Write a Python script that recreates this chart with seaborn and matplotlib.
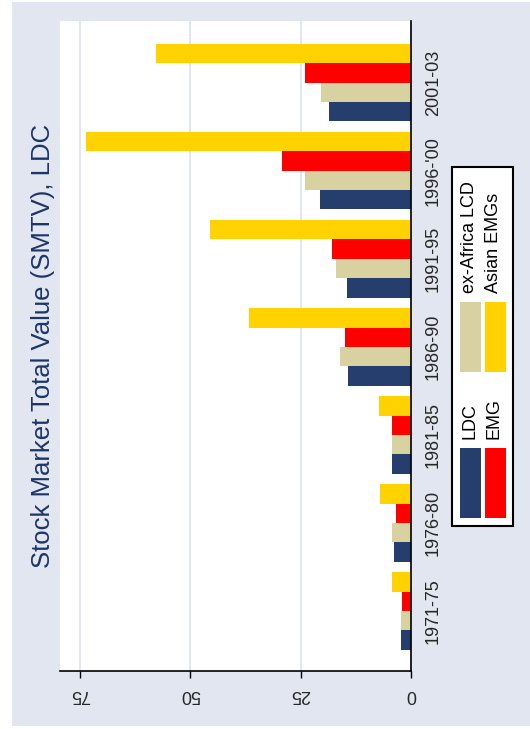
import pandas as pd
import matplotlib.pyplot as plt
import seaborn as sns
from matplotlib.patches import Rectangle

# --- DATA ---
periods = ["1971-75", "1976-80", "1981-85", "1986-90", "1991-95", "1996-'00", "2001-03"]
series = ["LDC", "ex-Africa LCD", "EMG", "Asian EMGs"]
ldc = [2.3, 3.8, 4.2, 14.3, 14.6, 20.7, 18.5]
ex_africa = [2.3, 4.2, 4.4, 16.0, 17.1, 23.9, 20.3]
emg = [2.0, 3.4, 4.2, 14.9, 17.8, 29.3, 23.9]
asian = [4.2, 7.0, 7.3, 36.7, 45.5, 73.5, 57.8]
value_ticks = [0, 25, 50, 75]
title = "Stock Market Total Value (SMTV), LDC"

colors = {"LDC": "#263e6e", "ex-Africa LCD": "#d7d2a0",
          "EMG": "#ff0000", "Asian EMGs": "#ffd200"}
BG = "#e1e6f0"

rows = []
for name, vals in zip(series, [ldc, ex_africa, emg, asian]):
    for p, v in zip(periods, vals):
        rows.append({"period": p, "series": name, "value": v})
df = pd.DataFrame(rows)

sns.set_theme(style="white")
plt.rcParams["font.family"] = ["Liberation Sans", "DejaVu Sans"]

W, H = 530, 729
fig = plt.figure(figsize=(W / 100, H / 100), dpi=100, facecolor="white")
# bluish graph region
fig.patches.append(Rectangle((12 / W, 1 - 726 / H), 1, (724) / H,
                             transform=fig.transFigure, facecolor=BG,
                             edgecolor="none", zorder=-10))

ax = fig.add_axes([60 / W, 1 - 671 / H, 351 / W, 650 / H])
ax.set_facecolor("white")

sns.barplot(data=df, y="period", x="value", hue="series", orient="h",
            order=periods[::-1], hue_order=series[::-1],
            palette=colors, saturation=1, width=0.88, linewidth=0,
            legend=False, ax=ax, zorder=3)

ax.set_xlim(79.5, 0)
ax.set_ylim(6.68, -0.70)
ax.set_xticks(value_ticks)
ax.set_xticklabels([str(t) for t in value_ticks], rotation=180, fontsize=13)
ax.xaxis.grid(True, color="#dce3ee", linewidth=1.2, zorder=0)
ax.yaxis.grid(False)
ax.tick_params(axis="x", direction="out", length=5, width=1, color="black",
               bottom=True, pad=6)

ax.yaxis.tick_right()
ax.tick_params(axis="y", length=0, pad=10, labelsize=13)
for lab in ax.get_yticklabels():
    lab.set_rotation(90)
    lab.set_va("center")

ax.set_xlabel("")
ax.set_ylabel("")
for s in ["top", "left"]:
    ax.spines[s].set_visible(False)
for s in ["right", "bottom"]:
    ax.spines[s].set_color("black")
    ax.spines[s].set_linewidth(1.2)
    ax.spines[s].set_zorder(5)

# title, rotated like the rest of the graph
fig.text(43 / W, 1 - 346 / H, title, rotation=90, ha="center", va="center",
         fontsize=18.5, color="#1c3566")

# legend drawn by hand (rotated entries)
fig.patches.append(Rectangle((452 / W, 1 - 526 / H), 61 / W, 359 / H,
                             transform=fig.transFigure, facecolor="white",
                             edgecolor="black", linewidth=1.5))
legend_items = [
    ("LDC", 460, 448, 470),
    ("ex-Africa LCD", 460, 302, 470),
    ("EMG", 485, 448, 494),
    ("Asian EMGs", 485, 302, 494),
]
for name, px, py, tx in legend_items:
    fig.patches.append(Rectangle((px / W, 1 - (py + 70) / H), 21 / W, 70 / H,
                                 transform=fig.transFigure,
                                 facecolor=colors[name], edgecolor="none"))
    fig.text(tx / W, 1 - (py - 9) / H, name, rotation=90, ha="center",
             va="bottom", fontsize=13, color="black")

fig.savefig("out.png", dpi=100, facecolor=fig.get_facecolor())
